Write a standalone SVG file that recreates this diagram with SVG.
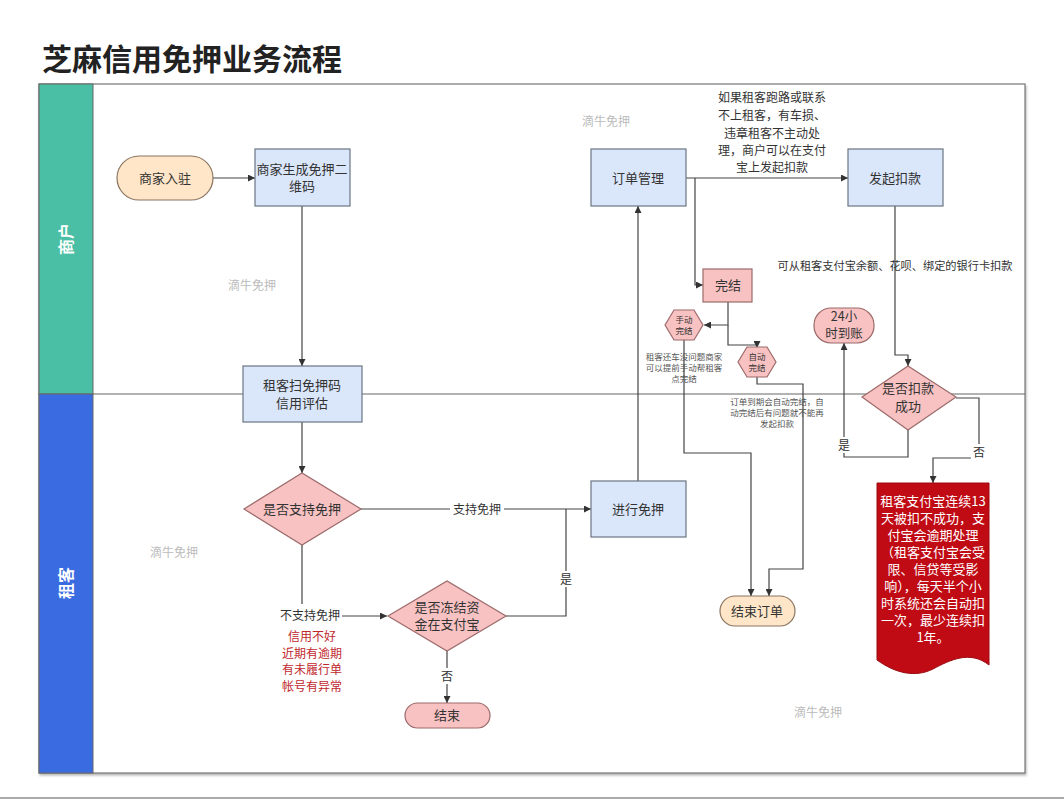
<svg xmlns="http://www.w3.org/2000/svg" width="1064" height="800" viewBox="0 0 1064 800">
<defs>
<marker id="arr" viewBox="0 0 10 10" refX="10" refY="5" markerWidth="7" markerHeight="7" markerUnits="userSpaceOnUse" orient="auto"><path d="M0,0 L10,5 L0,10 Z" fill="#333"/></marker>
<filter id="sh" x="-5%" y="-5%" width="110%" height="110%"><feDropShadow dx="1" dy="2" stdDeviation="1" flood-color="#888" flood-opacity="0.6"/></filter>
</defs>
<style>
text{font-family:"Noto Sans CJK SC","Noto Sans",sans-serif;fill:#333;text-anchor:middle}
.t{font-size:13px}
.s{font-size:12px}
.xs{font-size:8.5px;fill:#555}
.wm{font-size:12px;fill:#bbb}
.red{font-size:12px;fill:#c0272d}
.wt{font-size:13px;fill:#fff}
.box{fill:#dae6fa;stroke:#6b7582;stroke-width:1.2}
.pink{fill:#f8c2c2;stroke:#9c6a6a;stroke-width:1.2}
.peach{fill:#ffe6c8;stroke:#8a7560;stroke-width:1.2}
.c{fill:none;stroke:#444;stroke-width:1.2}
.ca{fill:none;stroke:#444;stroke-width:1.2;marker-end:url(#arr)}
</style>
<rect width="1064" height="800" fill="#fff"/>
<text x="42" y="70" style="font-size:30px;font-weight:bold;fill:#222;text-anchor:start">芝麻信用免押业务流程</text>
<line x1="0" y1="798" x2="1064" y2="798" stroke="#aaa" stroke-width="2"/>
<g id="pool">
<rect x="39" y="84" width="986" height="689" fill="#fff" stroke="#777" stroke-width="1.2" filter="url(#sh)"/>
<rect x="39" y="84" width="54" height="310" fill="#4bbfa5" stroke="#666" stroke-width="1"/>
<rect x="39" y="394" width="54" height="379" fill="#3b6be0" stroke="#666" stroke-width="1"/>
<line x1="93" y1="394" x2="1025" y2="394" stroke="#666" stroke-width="1.2"/>
<text transform="translate(72,239) rotate(-90)" style="font-size:16px;font-weight:bold;fill:#fff">商户</text>
<text transform="translate(72,583) rotate(-90)" style="font-size:16px;font-weight:bold;fill:#fff">租客</text>
</g>
<g id="watermarks">
<text class="wm" x="606" y="126">滴牛免押</text>
<text class="wm" x="252" y="290">滴牛免押</text>
<text class="wm" x="174" y="557">滴牛免押</text>
<text class="wm" x="818" y="717">滴牛免押</text>
</g>
<g id="connectors">
<line class="ca" x1="213" y1="178" x2="255" y2="178"/>
<line class="ca" x1="302" y1="206" x2="302" y2="366"/>
<line class="ca" x1="302" y1="422" x2="302" y2="473"/>
<line class="ca" x1="361" y1="509" x2="591" y2="509"/>
<rect x="450" y="500" width="54" height="18" fill="#fff"/>
<text class="s" x="477" y="514">支持免押</text>
<polyline class="c" points="302,545 302,604"/>
<line class="ca" x1="342" y1="616" x2="387" y2="616"/>
<text class="s" x="310" y="620">不支持免押</text>
<text class="red" x="312" y="641">信用不好</text>
<text class="red" x="312" y="658">近期有逾期</text>
<text class="red" x="312" y="674">有未履行单</text>
<text class="red" x="312" y="691">帐号有异常</text>
<polyline class="c" points="506,616 566,616 566,509"/>
<rect x="558" y="571" width="16" height="16" fill="#fff"/>
<text class="s" x="566" y="584">是</text>
<line class="ca" x1="447" y1="651" x2="447" y2="703"/>
<rect x="439" y="668" width="16" height="16" fill="#fff"/>
<text class="s" x="447" y="681">否</text>
<line class="ca" x1="638" y1="481" x2="638" y2="206"/>
<line class="ca" x1="686" y1="178" x2="848" y2="178"/>
<text class="s" x="772" y="102">如果租客跑路或联系</text>
<text class="s" x="772" y="120">不上租客，有车损、</text>
<text class="s" x="772" y="138">违章租客不主动处</text>
<text class="s" x="772" y="155">理，商户可以在支付</text>
<text class="s" x="772" y="172">宝上发起扣款</text>
<polyline class="ca" points="695,178 695,285 703,285"/>
<polyline class="ca" points="728,302 728,325 704,325"/>
<polyline class="ca" points="728,325 728,345 757,345 757,348"/>
<polyline class="ca" points="684,340 684,453 751,453 751,596"/>
<polyline class="ca" points="757,377 757,384 803,384 803,569 769,569 769,596"/>
<text class="xs" x="684" y="360">租客还车没问题商家</text>
<text class="xs" x="684" y="371">可以提前手动帮租客</text>
<text class="xs" x="684" y="382">点完结</text>
<text class="xs" x="777" y="405">订单到期会自动完结，自</text>
<text class="xs" x="777" y="416">动完结后有问题就不能再</text>
<text class="xs" x="777" y="427">发起扣款</text>
<polyline class="ca" points="895,206 895,355 908,355 908,366"/>
<text x="895" y="270" style="font-size:11.2px">可从租客支付宝余额、花呗、绑定的银行卡扣款</text>
<polyline class="ca" points="908,430 908,457 844,457 844,343"/>
<rect x="836" y="437" width="16" height="16" fill="#fff"/>
<text class="s" x="844" y="450">是</text>
<polyline class="ca" points="956,398 979,398 979,458 933,458 933,483"/>
<rect x="971" y="444" width="16" height="16" fill="#fff"/>
<text class="s" x="979" y="457">否</text>
</g>
<g id="n_start"><rect class="peach" x="117" y="156" width="96" height="44" rx="22"/><text class="t" x="165" y="183">商家入驻</text></g>
<g id="n_qr"><rect class="box" x="255" y="149" width="95" height="57"/><text class="t" x="302" y="174">商家生成免押二</text><text class="t" x="302" y="191">维码</text></g>
<g id="n_scan"><rect class="box" x="243" y="366" width="119" height="56"/><text class="t" x="302" y="390">租客扫免押码</text><text class="t" x="302" y="408">信用评估</text></g>
<g id="n_support"><polygon class="pink" points="244,509 302,473 361,509 302,545"/><text class="t" x="302" y="514">是否支持免押</text></g>
<g id="n_freeze"><polygon class="pink" points="388,616 447,581 506,616 447,651"/><text class="t" x="447" y="612">是否冻结资</text><text class="t" x="447" y="629">金在支付宝</text></g>
<g id="n_end"><rect class="pink" x="405" y="703" width="85" height="25" rx="12.5"/><text class="t" x="447" y="720">结束</text></g>
<g id="n_do"><rect class="box" x="591" y="481" width="95" height="56"/><text class="t" x="638" y="514">进行免押</text></g>
<g id="n_order"><rect class="box" x="591" y="149" width="95" height="57"/><text class="t" x="638" y="183">订单管理</text></g>
<g id="n_charge"><rect class="box" x="848" y="149" width="95" height="57"/><text class="t" x="895" y="183">发起扣款</text></g>
<g id="n_done"><rect class="pink" x="703" y="269" width="49" height="33"/><text class="t" x="728" y="290">完结</text></g>
<g id="n_manual"><polygon class="pink" points="665,325 674,310 694,310 703,325 694,340 674,340"/><text style="font-size:8.5px" x="684" y="323">手动</text><text style="font-size:8.5px" x="684" y="334">完结</text></g>
<g id="n_auto"><polygon class="pink" points="738,362 747,347 767,347 776,362 767,377 747,377"/><text style="font-size:8.5px" x="757" y="360">自动</text><text style="font-size:8.5px" x="757" y="371">完结</text></g>
<g id="n_endorder"><rect class="peach" x="720" y="596" width="75" height="30" rx="15"/><text class="t" x="757" y="616">结束订单</text></g>
<g id="n_24h"><rect class="pink" x="814" y="308" width="60" height="35" rx="17"/><text x="844" y="321" style="font-size:12.5px">24小</text><text x="844" y="338" style="font-size:12.5px">时到账</text></g>
<g id="n_success"><polygon class="pink" points="862,397 908,366 956,397 908,430"/><text class="t" x="908" y="393">是否扣款</text><text class="t" x="908" y="411">成功</text></g>
<g id="n_overdue">
<path d="M877,483 H989 V665 C970,650 950,660 933,669 C915,678 895,673 877,660 Z" fill="#c00a14" stroke="#9a0a10" stroke-width="1"/>
<text class="wt" x="933" y="506">租客支付宝连续13</text>
<text class="wt" x="933" y="523">天被扣不成功，支</text>
<text class="wt" x="933" y="540">付宝会逾期处理</text>
<text class="wt" x="933" y="557">（租客支付宝会受</text>
<text class="wt" x="933" y="574">限、信贷等受影</text>
<text class="wt" x="933" y="591">响），每天半个小</text>
<text class="wt" x="933" y="608">时系统还会自动扣</text>
<text class="wt" x="933" y="625">一次，最少连续扣</text>
<text class="wt" x="933" y="642">1年。</text>
</g>
</svg>
